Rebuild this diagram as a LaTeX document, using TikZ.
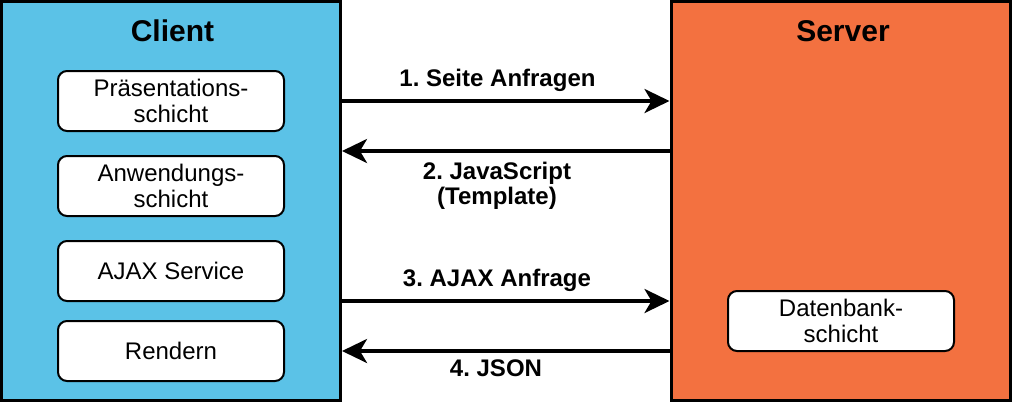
\documentclass[tikz,border=0pt]{standalone}
\usepackage{fontspec}
\setmainfont{Liberation Sans}
\usetikzlibrary{arrows.meta,positioning}
\definecolor{clientblue}{RGB}{91,194,231}
\definecolor{serverorange}{RGB}{243,113,64}
\frenchspacing

\begin{document}
\begin{tikzpicture}[x=1pt,y=1pt,
  tier/.style={draw=black, line width=3pt, minimum width=339pt, minimum height=399pt, inner sep=0pt},
  layer/.style={draw=black, fill=white, line width=2pt, rounded corners=9pt, minimum width=226pt, minimum height=60pt, align=center, inner sep=0pt, font=\fontsize{24}{26.5}\selectfont},
  title/.style={anchor=base, inner sep=0pt, font=\fontsize{30}{34}\selectfont\bfseries},
  msg/.style={inner sep=0pt, align=center, font=\fontsize{24}{25.5}\selectfont\bfseries},
  call/.style={line width=3.5pt, -{Stealth[length=25pt,width=24pt,inset=7pt]}}]
\useasboundingbox (0,0) rectangle (1012,-402);
% client and server
\node [tier, fill=clientblue] (client) at (171,-201) {};
\node [tier, fill=serverorange, minimum width=339.5pt] (server) at (840.75,-201) {};
\node [title] (clienttitle) at (172.5,-41.7) {Client};
\node [title] (servertitle) at (843,-41.7) {Server};
% layers
\node [layer] (praes) at (171,-101) {Präsentations-\\schicht};
\node [layer] (anw) at (171,-186) {Anwendungs-\\schicht};
\node [layer] (ajax) at (171,-271) {AJAX Service};
\node [layer] (render) at (171,-351) {Rendern};
\node [layer] (db) at (841,-321) {Datenbank-\\schicht};
% requests and answers
\draw [call] ([yshift=100pt]client.east) -- ([yshift=100pt]server.west);
\draw [call] ([yshift=50pt]server.west) -- ([yshift=50pt]client.east);
\draw [call] ([yshift=-100pt]client.east) -- ([yshift=-100pt]server.west);
\draw [call] ([yshift=-150pt]server.west) -- ([yshift=-150pt]client.east);
\node [msg, anchor=base] (seite) at (497.5,-86.7) {1. Seite Anfragen};
\node [msg] (script) at (497,-186) {2. JavaScript\\(Template)};
\node [msg, anchor=base] (anfrage) at (497,-286.7) {3. AJAX Anfrage};
\node [msg, anchor=base] (json) at (496,-376.7) {4. JSON};
\end{tikzpicture}
\end{document}
